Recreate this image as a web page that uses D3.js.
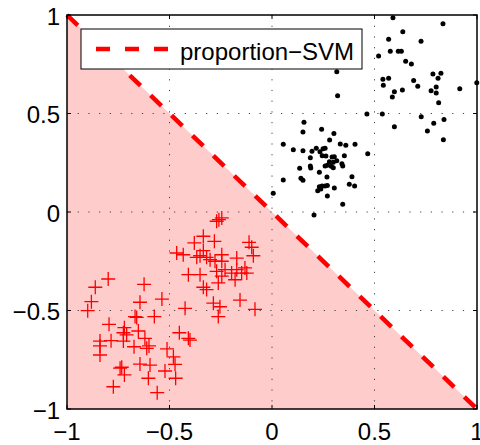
<!DOCTYPE html>
<html>
<head>
<meta charset="utf-8">
<script src="https://cdn.jsdelivr.net/npm/d3@7/dist/d3.min.js"></script>
<style>
  html, body { margin: 0; padding: 0; background: #fff; }
  svg { display: block; }
  text { font-family: "Liberation Sans", Arial, Helvetica, sans-serif; fill: #000; }
</style>
</head>
<body>
<div id="chart"></div>
<script>
// Positive class (black dots)
const dotX = [0.463, 0.156, 0.151, 0.242, 0.302, 0.281, 0.055, 0.333, 0.360, 0.405,
  0.104, 0.151, 0.195, 0.216, 0.249, 0.259, 0.234, 0.245, 0.263, 0.293,
  0.304, 0.353, 0.467, 0.187, 0.280, 0.299, 0.316, 0.341, 0.345, 0.289,
  0.259, 0.270, 0.299, 0.187, 0.189, 0.135, 0.231, 0.268, 0.390, 0.141,
  0.151, 0.055, 0.377, 0.403, 0.231, 0.244, 0.259, 0.270, 0.223, 0.238,
  0.304, 0.006, 0.270, 0.345, 0.205, 0.316, 0.320,
  0.590, 0.834, 0.638, 0.569, 0.727, 0.577, 0.616, 0.631, 0.520, 0.652,
  0.680, 0.785, 0.824, 0.810, 0.541, 0.569, 0.691, 0.543, 0.711, 0.801,
  0.597, 0.636, 0.776, 0.801, 0.916, 0.999, 0.587, 0.813, 0.538, 0.728,
  0.839, 0.789, 0.597, 0.758, 0.836];
const dotY = [0.497, 0.455, 0.406, 0.420, 0.399, 0.365, 0.344, 0.345, 0.339, 0.344,
  0.316, 0.311, 0.308, 0.323, 0.321, 0.323, 0.306, 0.286, 0.284, 0.279,
  0.281, 0.286, 0.296, 0.276, 0.255, 0.252, 0.260, 0.245, 0.234, 0.232,
  0.234, 0.237, 0.225, 0.234, 0.223, 0.222, 0.202, 0.178, 0.179, 0.171,
  0.161, 0.162, 0.141, 0.132, 0.128, 0.132, 0.132, 0.134, 0.108, 0.117,
  0.122, 0.095, 0.081, 0.039, -0.015, 0.712, 0.590,
  0.986, 0.956, 0.915, 0.877, 0.867, 0.816, 0.816, 0.816, 0.792, 0.765,
  0.751, 0.701, 0.704, 0.679, 0.674, 0.679, 0.667, 0.643, 0.638, 0.635,
  0.611, 0.619, 0.616, 0.604, 0.626, 0.656, 0.584, 0.555, 0.497, 0.484,
  0.469, 0.450, 0.433, 0.411, 0.367];

// Negative class (red crosses)
const plusX = [-0.259, -0.245, -0.270, -0.335, -0.281, -0.379, -0.112, -0.099, -0.465, -0.433,
  -0.335, -0.351, -0.367, -0.319, -0.245, -0.302, -0.278, -0.245, -0.172, -0.091,
  -0.229, -0.172, -0.132, -0.197, -0.148, -0.123, -0.270, -0.408, -0.351, -0.245,
  -0.180, -0.262, -0.335, -0.319, -0.286, -0.254, -0.262, -0.156, -0.083,
  -0.799, -0.862, -0.624, -0.881, -0.899, -0.537, -0.644, -0.424, -0.668, -0.660,
  -0.574, -0.795, -0.720, -0.725, -0.652, -0.709, -0.839, -0.839, -0.785, -0.725,
  -0.620, -0.600, -0.611, -0.673, -0.839, -0.452, -0.408, -0.400, -0.512, -0.481,
  -0.473, -0.644, -0.595, -0.733, -0.741, -0.720, -0.522, -0.603, -0.470, -0.774,
  -0.560];
const plusY = [-0.039, -0.030, -0.047, -0.123, -0.149, -0.157, -0.154, -0.179, -0.208, -0.217,
  -0.196, -0.222, -0.230, -0.230, -0.217, -0.242, -0.250, -0.250, -0.234, -0.222,
  -0.293, -0.293, -0.284, -0.310, -0.310, -0.310, -0.301, -0.318, -0.318, -0.326,
  -0.344, -0.360, -0.382, -0.394, -0.463, -0.481, -0.531, -0.447, -0.494,
  -0.340, -0.382, -0.367, -0.455, -0.501, -0.442, -0.458, -0.489, -0.531, -0.535,
  -0.531, -0.570, -0.587, -0.613, -0.604, -0.624, -0.655, -0.680, -0.653, -0.655,
  -0.641, -0.680, -0.692, -0.684, -0.726, -0.613, -0.641, -0.650, -0.695, -0.735,
  -0.773, -0.772, -0.777, -0.788, -0.793, -0.827, -0.807, -0.844, -0.844, -0.887,
  -0.917];

// Separating line y = -x, drawn across the whole axis range
const boundaryX = [-1, 1];
const boundaryY = [1, -1];

const tickValues = [-1, -0.5, 0, 0.5, 1];
const tickLabels = ["\u22121", "\u22120.5", "0", "0.5", "1"];
const legendLabel = "proportion\u2212SVM";

const W = 480, H = 445;
const margin = { left: 67, top: 15, right: 3, bottom: 36 };
const pw = W - margin.left - margin.right;
const ph = H - margin.top - margin.bottom;

const x = d3.scaleLinear().domain([-1, 1]).range([0, pw]);
const y = d3.scaleLinear().domain([-1, 1]).range([ph, 0]);

const svg = d3.select("#chart").append("svg")
  .attr("width", W).attr("height", H);
const g = svg.append("g").attr("transform", `translate(${margin.left},${margin.top})`);

// Shaded half-plane below the boundary
const region = [[boundaryX[0], boundaryY[0]], [boundaryX[1], boundaryY[1]], [-1, -1]];
g.append("path")
  .attr("d", d3.line().x(d => x(d[0])).y(d => y(d[1]))(region) + "Z")
  .attr("fill", "#ffcccc");

// Dotted grid
const inner = tickValues.filter(v => v > -1 && v < 1);
g.append("g").selectAll("line.gx").data(inner).join("line")
  .attr("x1", d => x(d)).attr("x2", d => x(d))
  .attr("y1", 0).attr("y2", ph)
  .attr("stroke", "#444").attr("stroke-width", 1)
  .attr("stroke-dasharray", "1.2,9.5");
g.append("g").selectAll("line.gy").data(inner).join("line")
  .attr("y1", d => y(d)).attr("y2", d => y(d))
  .attr("x1", 0).attr("x2", pw)
  .attr("stroke", "#444").attr("stroke-width", 1)
  .attr("stroke-dasharray", "1.2,9.5");

// Red crosses
const crossHalf = 7;
const crosses = g.append("g").attr("stroke", "#ff0000").attr("stroke-width", 1.3);
plusX.forEach((vx, i) => {
  const cx = x(vx), cy = y(plusY[i]);
  crosses.append("path")
    .attr("d", `M${cx - crossHalf},${cy}H${cx + crossHalf}M${cx},${cy - crossHalf}V${cy + crossHalf}`);
});

// Black dots
g.append("g").selectAll("circle").data(dotX.map((vx, i) => [vx, dotY[i]])).join("circle")
  .attr("cx", d => x(d[0])).attr("cy", d => y(d[1]))
  .attr("r", 2.5).attr("fill", "#000");

// Dashed decision boundary
g.append("line")
  .attr("x1", x(boundaryX[0])).attr("y1", y(boundaryY[0]))
  .attr("x2", x(boundaryX[1])).attr("y2", y(boundaryY[1]))
  .attr("stroke", "#ff0000").attr("stroke-width", 4.5)
  .attr("stroke-dasharray", "15,14");

// Axes with inward ticks on all four sides
const tickLen = 4;
const ax = g.append("g");
ax.append("rect").attr("x", 0).attr("y", 0).attr("width", pw).attr("height", ph)
  .attr("fill", "none").attr("stroke", "#000").attr("stroke-width", 1.5);
tickValues.forEach(v => {
  ax.append("line").attr("x1", x(v)).attr("x2", x(v)).attr("y1", ph).attr("y2", ph - tickLen).attr("stroke", "#000");
  ax.append("line").attr("x1", x(v)).attr("x2", x(v)).attr("y1", 0).attr("y2", tickLen).attr("stroke", "#000");
  ax.append("line").attr("y1", y(v)).attr("y2", y(v)).attr("x1", 0).attr("x2", tickLen).attr("stroke", "#000");
  ax.append("line").attr("y1", y(v)).attr("y2", y(v)).attr("x1", pw).attr("x2", pw - tickLen).attr("stroke", "#000");
});
ax.selectAll("text.xt").data(tickValues).join("text")
  .attr("x", d => x(d)).attr("y", ph + 31)
  .attr("text-anchor", "middle").attr("font-size", 24)
  .text((d, i) => tickLabels[i]);
ax.selectAll("text.yt").data(tickValues).join("text")
  .attr("x", -7).attr("y", d => y(d) + 9.5)
  .attr("text-anchor", "end").attr("font-size", 24)
  .text((d, i) => tickLabels[i]);

// Legend
const lg = g.append("g").attr("transform", `translate(${81 - margin.left},${29 - margin.top})`);
lg.append("rect").attr("width", 281).attr("height", 40)
  .attr("fill", "#fff").attr("stroke", "#000").attr("stroke-width", 1);
lg.append("line").attr("x1", 15).attr("x2", 88).attr("y1", 20).attr("y2", 20)
  .attr("stroke", "#ff0000").attr("stroke-width", 4.5).attr("stroke-dasharray", "14,15");
lg.append("text").attr("x", 99).attr("y", 31).attr("font-size", 24).text(legendLabel);
</script>
</body>
</html>
